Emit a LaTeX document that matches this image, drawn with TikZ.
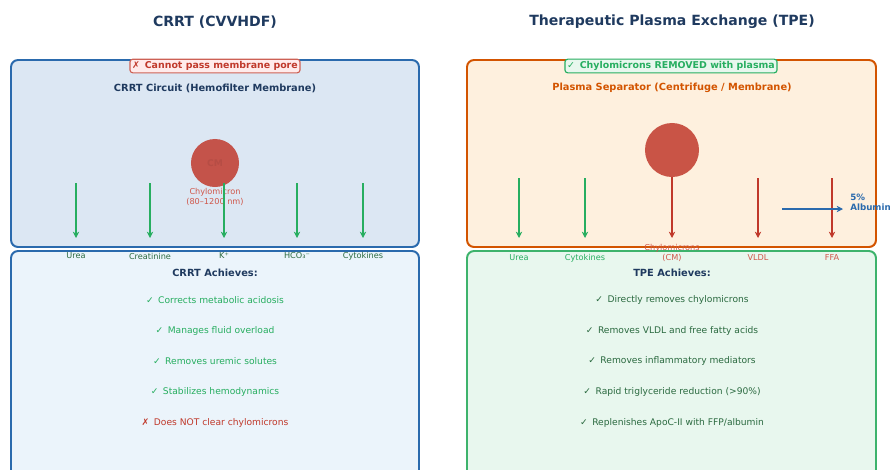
\documentclass[tikz,border=0pt]{standalone}
\usepackage{fontspec}
\setmainfont{DejaVu Sans}
\usetikzlibrary{arrows.meta}

\definecolor{navy}{HTML}{1F3A5F}
\definecolor{bluB}{HTML}{2A6AAD}
\definecolor{bluTop}{HTML}{DCE7F3}
\definecolor{bluBot}{HTML}{EBF4FB}
\definecolor{aranB}{HTML}{D35400}
\definecolor{aranTop}{HTML}{FEF0DE}
\definecolor{verdeB}{HTML}{3DB36C}
\definecolor{verdeBot}{HTML}{E8F7EE}
\definecolor{verde}{HTML}{27AE60}
\definecolor{verdeScuro}{HTML}{2B6A40}
\definecolor{rosso}{HTML}{C0392B}
\definecolor{rossoChiaro}{HTML}{D0574A}
\definecolor{cmL}{HTML}{C4534A}
\definecolor{cmR}{HTML}{C95446}

\begin{document}
\begin{tikzpicture}[x=0.025cm, y=-0.025cm]
  % Stili
  \tikzset{
    titolo/.style={font=\fontsize{10}{12}\selectfont\bfseries, text=navy},
    intest/.style={font=\fontsize{7}{8.4}\selectfont\bfseries},
    voce/.style={font=\fontsize{6.5}{8}\selectfont},
    etich/.style={font=\fontsize{5.8}{6.6}\selectfont, align=center},
    badge/.style={draw, rounded corners=2pt, line width=0.8pt, inner sep=1.6pt, font=\fontsize{6.7}{8}\selectfont\bfseries},
    scatola/.style={rounded corners=5pt, line width=1.4pt},
    freccia/.style={line width=1.3pt, -{Stealth[length=4.5pt, width=4.5pt]}},
    particella/.style={circle, inner sep=0pt, font=\fontsize{6.5}{8}\selectfont\bfseries}
  }
  \useasboundingbox (0,0) rectangle (890,469);

  % Titoli
  \node[titolo] (tCRRT) at (215,22) {CRRT (CVVHDF)};
  \node[titolo] (tTPE) at (672,22) {Therapeutic Plasma Exchange (TPE)};

  % Scatole
  \draw[scatola, draw=bluB, fill=bluTop] (11,60) rectangle (419,247);
  \draw[scatola, draw=bluB, fill=bluBot] (11,251) rectangle (419,490);
  \draw[scatola, draw=aranB, fill=aranTop] (467,60) rectangle (876,247);
  \draw[scatola, draw=verdeB, fill=verdeBot] (467,251) rectangle (876,490);

  % CRRT: circuito
  \node[badge, draw=rosso!80, fill=red!8, text=rosso] (noPass) at (215,66) {✗\enspace Cannot pass membrane pore};
  \node[intest, text=navy] (circuito) at (215,88) {CRRT Circuit (Hemofilter Membrane)};
  \node[particella, fill=cmL, text=cmL!93!black, minimum size=1.2cm] (cmA) at (215,163) {CM};
  \node[etich, text=rossoChiaro] (cmAlbl) at (215,197) {Chylomicron\\(80–1200 nm)};

  \coordinate (a1) at (76,183);   \coordinate (a1e) at (76,238);
  \coordinate (a2) at (150,183);  \coordinate (a2e) at (150,238);
  \coordinate (a3) at (224,183);  \coordinate (a3e) at (224,238);
  \coordinate (a4) at (297,183);  \coordinate (a4e) at (297,238);
  \coordinate (a5) at (363,183);  \coordinate (a5e) at (363,238);
  \draw[freccia, verde] (a1) -- (a1e);
  \draw[freccia, verde] (a2) -- (a2e);
  \draw[freccia, verde] (a3) -- (a3e);
  \draw[freccia, verde] (a4) -- (a4e);
  \draw[freccia, verde] (a5) -- (a5e);

  \node[etich, text=verdeScuro] (urA) at (76,256) {Urea};
  \node[etich, text=verdeScuro] (crA) at (150,256) {Creatinine};
  \node[etich, text=verdeScuro] (kA) at (224,256) {K⁺};
  \node[etich, text=verdeScuro] (hcA) at (297,256) {HCO₃⁻};
  \node[etich, text=verdeScuro] (cyA) at (363,256) {Cytokines};

  % CRRT: risultati
  \node[intest, text=navy] (crrtRis) at (215,273) {CRRT Achieves:};
  \node[voce, text=verde] (r1) at (215,300) {✓\enspace Corrects metabolic acidosis};
  \node[voce, text=verde] (r2) at (215,331) {✓\enspace Manages fluid overload};
  \node[voce, text=verde] (r3) at (215,361) {✓\enspace Removes uremic solutes};
  \node[voce, text=verde] (r4) at (215,392) {✓\enspace Stabilizes hemodynamics};
  \node[voce, text=rosso] (r5) at (215,423) {✗\enspace Does NOT clear chylomicrons};

  % TPE: separatore
  \node[badge, draw=verde, fill=verdeBot, text=verde] (rimosso) at (671,66) {✓\enspace Chylomicrons REMOVED with plasma};
  \node[intest, text=aranB] (separatore) at (672,88) {Plasma Separator (Centrifuge / Membrane)};
  \node[particella, fill=cmR, minimum size=1.35cm] (cmB) at (672,150) {};

  \coordinate (b1) at (519,178);  \coordinate (b1e) at (519,238);
  \coordinate (b2) at (585,178);  \coordinate (b2e) at (585,238);
  \coordinate (b4) at (758,178);  \coordinate (b4e) at (758,238);
  \coordinate (b5) at (832,178);  \coordinate (b5e) at (832,238);
  \coordinate (b3e) at (672,238);
  \draw[freccia, verde] (b1) -- (b1e);
  \draw[freccia, verde] (b2) -- (b2e);
  \draw[freccia, rosso] (cmB.south) -- (b3e);
  \draw[freccia, rosso] (b4) -- (b4e);
  \draw[freccia, rosso] (b5) -- (b5e);

  \node[etich, text=verde] (urB) at (519,258) {Urea};
  \node[etich, text=verde] (cyB) at (585,258) {Cytokines};
  \node[etich, text=rossoChiaro] (cmBlbl) at (672,253) {Chylomicrons\\(CM)};
  \node[etich, text=rossoChiaro] (vlB) at (758,258) {VLDL};
  \node[etich, text=rossoChiaro] (ffB) at (832,258) {FFA};

  % Albumina
  \node[font=\fontsize{6.2}{7}\selectfont\bfseries, text=bluB, align=left, anchor=west, inner sep=0pt] (albumina) at (850,202) {5\%\\Albumin};
  \coordinate (alb0) at (782,209);
  \coordinate (alb1) at (843,209);
  \draw[freccia, bluB] (alb0) -- (alb1);

  % TPE: risultati
  \node[intest, text=navy] (tpeRis) at (672,273) {TPE Achieves:};
  \node[voce, text=verdeScuro] (s1) at (672,300) {✓\enspace Directly removes chylomicrons};
  \node[voce, text=verdeScuro] (s2) at (672,331) {✓\enspace Removes VLDL and free fatty acids};
  \node[voce, text=verdeScuro] (s3) at (672,361) {✓\enspace Removes inflammatory mediators};
  \node[voce, text=verdeScuro] (s4) at (672,392) {✓\enspace Rapid triglyceride reduction (>90\%)};
  \node[voce, text=verdeScuro] (s5) at (672,423) {✓\enspace Replenishes ApoC-II with FFP/albumin};
\end{tikzpicture}
\end{document}
